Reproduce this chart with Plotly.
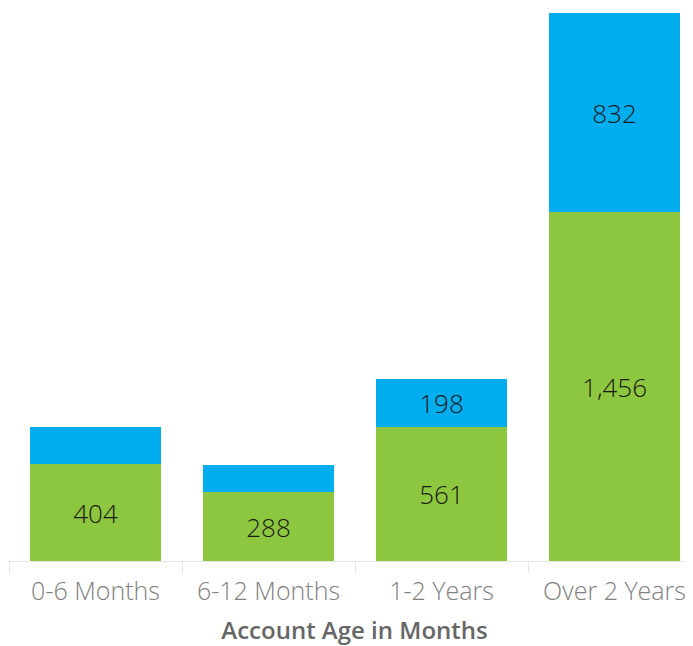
import plotly.graph_objects as go

categories = ["0-6 Months", "6-12 Months", "1-2 Years", "Over 2 Years"]
green_values = [404, 288, 561, 1456]
blue_values = [155, 113, 198, 832]
green_labels = ["404", "288", "561", "1,456"]
blue_labels = ["", "", "198", "832"]

GREEN = "#8DC63F"
BLUE = "#00ADEF"
LABEL_FONT = dict(family="Open Sans", size=26, color="#1a1a1a", weight=300)

fig = go.Figure()
fig.add_trace(go.Bar(
    x=categories, y=green_values, marker=dict(color=GREEN, line=dict(width=0)),
    text=green_labels, textposition="inside", insidetextanchor="middle",
    textangle=0, constraintext="none", textfont=LABEL_FONT,
    hoverinfo="x+y", name="Green"))
fig.add_trace(go.Bar(
    x=categories, y=blue_values, marker=dict(color=BLUE, line=dict(width=0)),
    text=blue_labels, textposition="inside", insidetextanchor="middle",
    textangle=0, constraintext="none", textfont=LABEL_FONT,
    hoverinfo="x+y", name="Blue"))

fig.update_layout(
    barmode="stack",
    bargap=0.243,
    width=693, height=646,
    margin=dict(l=0, r=0, t=0, b=93, autoexpand=False),
    paper_bgcolor="white", plot_bgcolor="white",
    showlegend=False,
    xaxis=dict(
        type="category",
        range=[-0.506, 3.5],
        showline=True, linecolor="#e6e6e6", linewidth=1,
        ticks="outside", tickson="boundaries", ticklen=11,
        tickcolor="#e6e6e6", tickwidth=1,
        ticklabelstandoff=8,
        tickfont=dict(family="Open Sans", size=25, color="#808080", weight=300),
        title=dict(text="Account Age in Months",
                   font=dict(family="Open Sans", size=24, color="#666666", weight=600),
                   standoff=16),
        showgrid=False, zeroline=False, automargin=False,
    ),
    yaxis=dict(range=[0, 2309], visible=False, showgrid=False, zeroline=False),
)

fig.write_html("out.html")
